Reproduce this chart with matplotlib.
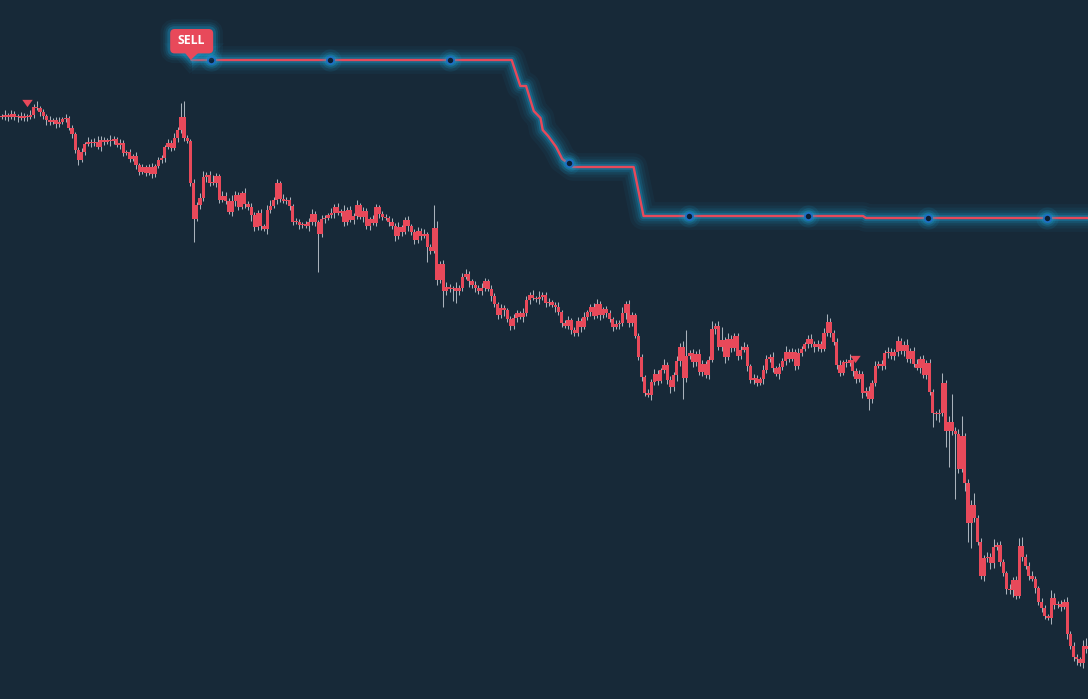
import numpy as np
import matplotlib
matplotlib.use('Agg')
import matplotlib.pyplot as plt
from matplotlib.patches import FancyBboxPatch, Polygon
from matplotlib.transforms import Affine2D, ScaledTranslation

BG = '#172938'
RED = '#e8495a'
WICK = '#a9b2bb'
GLOW = '#1ba3d6'

# candle closes (price units); open of each candle = previous close
first_open = 583
closes = [
    583, 585, 583, 586, 583, 584, 582, 584, 583, 585,
    593, 592, 588, 584, 580, 578, 580, 576, 578, 581,
    582, 572, 566, 550, 540, 548, 556, 558, 557, 558,
    553, 560, 558, 560, 559, 561, 555, 557, 547, 548,
    541, 544, 535, 528, 533, 527, 533, 526, 534, 540,
    542, 553, 557, 552, 562, 570, 583, 562, 559, 517,
    481, 495, 502, 523, 525, 517, 517, 524, 500, 504,
    499, 488, 499, 505, 493, 507, 496, 493, 485, 473,
    487, 474, 471, 490, 494, 500, 517, 501, 499, 500,
    494, 478, 478, 475, 476, 474, 478, 486, 478, 466,
    481, 482, 485, 487, 493, 487, 489, 478, 490, 480,
    484, 495, 483, 489, 474, 481, 477, 493, 486, 483,
    482, 478, 474, 464, 473, 468, 480, 474, 468, 460,
    469, 464, 466, 453, 449, 472, 420, 436, 409, 413,
    411, 412, 409, 412, 423, 426, 419, 415, 412, 409,
    412, 419, 411, 404, 396, 385, 392, 390, 381, 374,
    382, 387, 383, 387, 400, 405, 402, 401, 403, 405,
    397, 398, 395, 393, 388, 377, 374, 380, 370, 367,
    379, 373, 383, 388, 393, 384, 396, 385, 391, 387,
    381, 373, 376, 377, 387, 396, 377, 385, 364, 343,
    323, 307, 305, 318, 326, 319, 330, 335, 320, 313,
    325, 339, 353, 322, 344, 347, 338, 346, 328, 336,
    325, 340, 371, 374, 353, 360, 343, 361, 352, 364,
    344, 350, 353, 334, 320, 322, 317, 321, 330, 341,
    343, 332, 326, 333, 339, 348, 341, 348, 334, 347,
    351, 356, 361, 356, 353, 356, 351, 367, 378, 367,
    358, 335, 327, 338, 337, 340, 329, 321, 326, 307,
    309, 301, 317, 334, 336, 334, 347, 348, 344, 348,
    359, 349, 355, 341, 349, 336, 332, 341, 325, 337,
    308, 287, 286, 287, 317, 269, 278, 269, 266, 231,
    264, 217, 177, 195, 182, 158, 124, 142, 143, 137,
    153, 155, 138, 127, 111, 110, 120, 104, 154, 143,
    134, 124, 121, 112, 98, 92, 84, 82, 102, 95,
    96, 93, 98, 66, 54, 43, 41, 37, 54, 51,
]

# wick extension above body top / below body bottom
wick_up = [
    3, 5, 2, 4, 3, 2, 4, 3, 2, 5,
    3, 6, 2, 3, 2, 4, 2, 3, 5, 2,
    4, 2, 3, 2, 3, 4, 2, 5, 3, 4,
    6, 4, 3, 2, 5, 3, 2, 4, 3, 2,
    3, 2, 4, 2, 3, 2, 3, 4, 2, 3,
    3, 2, 4, 3, 5, 3, 14, 16, 3, 2,
    4, 3, 5, 6, 3, 4, 8, 3, 2, 5,
    4, 3, 6, 4, 3, 2, 5, 3, 4, 3,
    3, 4, 2, 5, 6, 3, 4, 2, 5, 3,
    3, 2, 4, 3, 2, 3, 4, 5, 3, 2,
    4, 3, 2, 5, 3, 4, 2, 6, 3, 4,
    3, 5, 2, 4, 3, 2, 4, 3, 2, 3,
    3, 2, 4, 3, 5, 2, 3, 4, 2, 3,
    4, 3, 5, 2, 3, 23, 7, 3, 4, 5,
    3, 2, 6, 3, 4, 5, 3, 2, 4, 3,
    5, 3, 2, 4, 3, 2, 4, 3, 2, 3,
    4, 3, 2, 5, 4, 3, 5, 2, 6, 3,
    3, 4, 2, 3, 5, 2, 3, 4, 2, 3,
    4, 3, 5, 2, 3, 4, 5, 3, 2, 3,
    3, 2, 4, 3, 6, 3, 4, 3, 2, 3,
    3, 2, 4, 3, 5, 4, 2, 6, 3, 4,
    3, 5, 4, 6, 26, 3, 4, 3, 5, 4,
    3, 4, 8, 3, 5, 13, 3, 6, 4, 3,
    3, 4, 5, 3, 2, 4, 3, 2, 5, 4,
    3, 5, 2, 4, 3, 6, 3, 4, 3, 5,
    3, 2, 4, 5, 3, 4, 3, 5, 8, 4,
    3, 4, 5, 2, 3, 6, 4, 3, 4, 3,
    4, 5, 3, 5, 3, 4, 3, 5, 4, 3,
    5, 3, 4, 6, 3, 4, 5, 3, 4, 3,
    4, 3, 2, 4, 10, 3, 6, 28, 4, 5,
    20, 3, 4, 5, 12, 3, 4, 3, 5, 4,
    8, 3, 4, 3, 2, 5, 3, 4, 8, 9,
    3, 4, 5, 3, 2, 4, 3, 2, 8, 5,
    3, 4, 3, 5, 3, 4, 3, 2, 6, 8,
]
wick_dn = [
    2, 3, 4, 2, 3, 5, 2, 3, 4, 2,
    3, 2, 4, 3, 5, 3, 2, 4, 3, 2,
    3, 2, 4, 3, 5, 2, 3, 2, 4, 3,
    2, 4, 3, 2, 5, 3, 2, 4, 3, 2,
    3, 2, 4, 3, 2, 3, 2, 4, 3, 2,
    3, 4, 2, 3, 2, 4, 3, 3, 2, 3,
    23, 2, 4, 3, 5, 3, 2, 4, 3, 2,
    3, 2, 4, 5, 3, 2, 4, 3, 6, 4,
    3, 4, 2, 5, 3, 2, 4, 3, 2, 3,
    4, 3, 2, 4, 3, 2, 5, 3, 4, 38,
    3, 4, 2, 3, 5, 2, 3, 4, 3, 2,
    4, 3, 2, 5, 3, 4, 2, 3, 4, 3,
    2, 4, 3, 5, 3, 4, 2, 5, 3, 4,
    3, 4, 2, 15, 3, 2, 5, 3, 16, 4,
    3, 12, 12, 4, 3, 2, 6, 3, 4, 3,
    4, 3, 2, 5, 3, 4, 3, 6, 3, 4,
    3, 4, 2, 5, 3, 4, 2, 3, 5, 3,
    4, 3, 2, 5, 3, 4, 2, 3, 4, 3,
    3, 5, 2, 3, 4, 3, 2, 5, 3, 4,
    3, 4, 2, 5, 3, 6, 4, 3, 2, 3,
    4, 3, 2, 5, 3, 4, 2, 3, 4, 6,
    4, 6, 5, 21, 4, 3, 5, 4, 3, 4,
    3, 4, 2, 5, 3, 4, 6, 3, 4, 3,
    4, 3, 2, 5, 3, 4, 3, 2, 5, 3,
    3, 4, 2, 5, 3, 4, 3, 2, 4, 3,
    3, 2, 4, 3, 5, 4, 3, 2, 3, 4,
    3, 4, 3, 2, 4, 3, 5, 4, 3, 5,
    3, 11, 4, 3, 2, 4, 3, 5, 3, 4,
    4, 3, 5, 3, 4, 3, 2, 5, 3, 4,
    3, 14, 6, 8, 3, 16, 36, 4, 65, 4,
    3, 8, 19, 25, 4, 3, 3, 5, 4, 6,
    5, 3, 4, 3, 5, 4, 7, 3, 2, 4,
    3, 4, 2, 5, 3, 4, 3, 2, 6, 4,
    3, 4, 2, 5, 3, 4, 6, 3, 5, 4,
]

# trailing stop line vertices (candle index, price)
stop_idx = [59.4, 159.4, 162.1, 163.9, 166.3, 168.4, 169.1, 170.8, 173.3,
            175.2, 178.6, 197.5, 200.6, 269.2, 270.1, 339.5]
stop_val = [640, 640, 614, 614, 589, 582, 570, 564, 553,
            541, 533, 533, 484, 484, 482, 482]
# markers on the stop line
dot_idx = [65.4, 102.6, 140.1, 177.3, 214.8, 252.0, 289.5, 326.7]
dot_val = [640, 640, 640, 537, 484, 484, 482, 482]
# signal triangles
signal_idx = [7.9, 266.7]
signal_val = [597.5, 341]
# SELL label anchor
sell_idx, sell_val = 59.4, 640
sell_text = 'SELL'

closes = np.array(closes, float)
opens = np.concatenate([[first_open], closes[:-1]])
top = np.maximum(opens, closes)
bot = np.minimum(opens, closes)
highs = top + np.array(wick_up, float)
lows = bot - np.array(wick_dn, float)
n = len(closes)
idx = np.arange(n)

fig = plt.figure(figsize=(10.88, 6.99), dpi=100, facecolor=BG)
ax = fig.add_axes([0, 0, 1, 1])
ax.set_facecolor(BG)
ax.set_xlim(-0.5, n - 0.5)
ax.set_ylim(1, 700)
ax.axis('off')

# candles
ax.vlines(idx, lows, highs, color=WICK, lw=0.75, zorder=2)
h = np.maximum(top - bot, 1.4)
ax.bar(idx, h, bottom=bot, width=0.97, color=RED, lw=0, zorder=3)

# signal triangles
tri = [(-1, 0.7), (1, 0.7), (0, -0.7)]
ax.plot(signal_idx, signal_val, linestyle='none', marker=tri, ms=7.5,
        color=RED, mec='none', zorder=4)

# glowing stop line
for lw, a in [(20, 0.05), (15, 0.07), (11, 0.10), (7.5, 0.16), (4.5, 0.28)]:
    ax.plot(stop_idx, stop_val, color=GLOW, lw=lw, alpha=a,
            solid_capstyle='butt', solid_joinstyle='round', zorder=5)
ax.plot(stop_idx, stop_val, color=RED, lw=1.7, solid_joinstyle='round', zorder=6)

# dots
for ms, a in [(16, 0.10), (12, 0.15), (9, 0.25)]:
    ax.plot(dot_idx, dot_val, linestyle='none', marker='o', ms=ms,
            color=GLOW, alpha=a, mec='none', zorder=6)
ax.plot(dot_idx, dot_val, linestyle='none', marker='o', ms=5.2,
        mfc='#0b1f33', mec='#1d6fc4', mew=1.3, zorder=7)

# SELL label in pixel units anchored at the line start
trans = Affine2D() + ScaledTranslation(sell_idx, sell_val, ax.transData)
box_kw = dict(boxstyle='round,pad=0,rounding_size=4.5', transform=trans)
for lw, a in [(14, 0.06), (10, 0.09), (7, 0.14), (4, 0.25)]:
    ax.add_patch(FancyBboxPatch((-21.5, 6.6), 43, 24.4, fc='none', ec=GLOW,
                                lw=lw, alpha=a, zorder=7, **box_kw))
    ax.add_patch(Polygon([(-7, 7), (7, 7), (-1, 0)], closed=True, fc='none',
                         ec=GLOW, lw=lw, alpha=a, transform=trans, zorder=7))
ax.add_patch(FancyBboxPatch((-21.5, 6.6), 43, 24.4, fc=RED, ec='none',
                            zorder=8, **box_kw))
ax.add_patch(Polygon([(-7, 7.5), (7, 7.5), (-1, 0)], closed=True, fc=RED,
                     ec='none', transform=trans, zorder=8))
ax.annotate(sell_text, xy=(sell_idx, sell_val), xytext=(0, 19.2 * 0.72),
            textcoords='offset points', ha='center', va='center',
            color='white', fontsize=8.8, fontweight='bold',
            family=['Open Sans', 'DejaVu Sans'], zorder=9)

fig.savefig('out.png', dpi=100, facecolor=BG)
